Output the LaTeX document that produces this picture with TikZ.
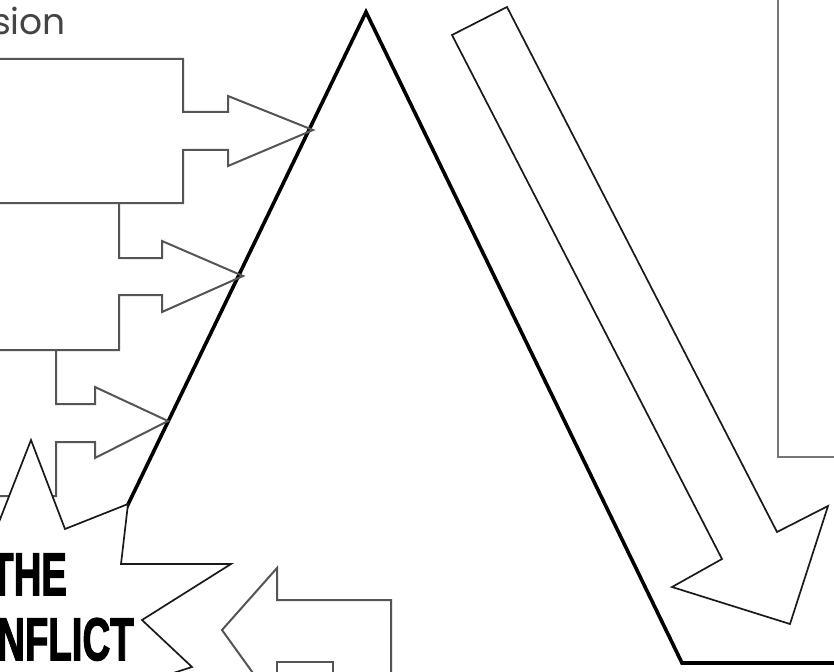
\documentclass[tikz,border=0pt]{standalone}
\usepackage{fontspec}
\usepackage{graphicx}
\newfontfamily\headfont{Poppins}
\newfontfamily\burstfont[FakeBold=2.5]{Liberation Sans}
\definecolor{boxgray}{HTML}{555555}
\definecolor{inkblack}{HTML}{1A1A1A}
\definecolor{labelgray}{HTML}{444444}
\tikzset{
  boxline/.style={draw=boxgray, line width=2pt, line join=miter},
  thinline/.style={draw=inkblack, line width=1.7pt, line join=miter},
  plotline/.style={draw=black, line width=3.6pt, line join=miter},
  burst/.style={draw=inkblack, line width=1.7pt, fill=white, line join=miter},
  bursttext/.style={font=\burstfont\bfseries\fontsize{60}{60}\selectfont, inner sep=0pt, anchor=base west, text=black},
}
\begin{document}
\begin{tikzpicture}[x=1pt, y=-1pt]
\useasboundingbox (0,0) rectangle (834,671);
\clip (0,0) rectangle (834,671);
\fill[white] (0,0) rectangle (834,671);

% label at top left
\node[font=\headfont\fontsize{36}{36}\selectfont, text=labelgray, inner sep=0pt, anchor=base west] (lbl) at (-8,35) {sion};

% right box
\draw[draw=boxgray!80, line width=2.4pt] (778,-5) -- (778,457) -- (840,457);

% plot line (mountain)
\coordinate (foot) at (121,519);
\coordinate (apex) at (366,12);
\coordinate (corner) at (682,663);
\coordinate (endres) at (840,663);
\draw[plotline] (foot) -- (apex) -- (corner) -- (endres);

% arrow box 1
\draw[boxline] (-5,59) -- (183,59) -- (183,112) -- (228,112) -- (228,96) -- (313,130) -- (228,166) -- (228,150) -- (183,150) -- (183,203) -- (-5,203);
% arrow box 2
\draw[boxline] (119,203) -- (119,258) -- (162,258) -- (162,241) -- (243,276) -- (162,312) -- (162,295) -- (119,295) -- (119,350) -- (-5,350);
% arrow box 3
\draw[boxline] (56,350) -- (56,404) -- (95,404) -- (95,387) -- (168,421) -- (95,458) -- (95,442) -- (56,442) -- (56,496) -- (-5,496);

% falling-action arrow
\draw[thinline] (452,35) -- (507,7) -- (777,532) -- (828,506) -- (790,624) -- (672,587) -- (722,559) -- cycle;

% bottom arrow pointing left
\draw[boxline] (258,680) -- (222,630) -- (277,568) -- (277,600) -- (391,600) -- (391,680);
\draw[boxline] (277,680) -- (277,662) -- (333,662) -- (333,680);

% conflict burst
\draw[burst] (-60,560) -- (-10,545) -- (31,440) -- (65,529) -- (128,504) -- (121,564) -- (231,564) -- (142,620) -- (192,667) -- (120,690) -- (-60,700) -- cycle;

\node[bursttext] (the) at (-10,595) {\scalebox{0.64}[1]{THE}};
\node[bursttext] (conflict) at (-3,660) {\scalebox{0.64}[1]{NFLICT}};
\end{tikzpicture}
\end{document}
